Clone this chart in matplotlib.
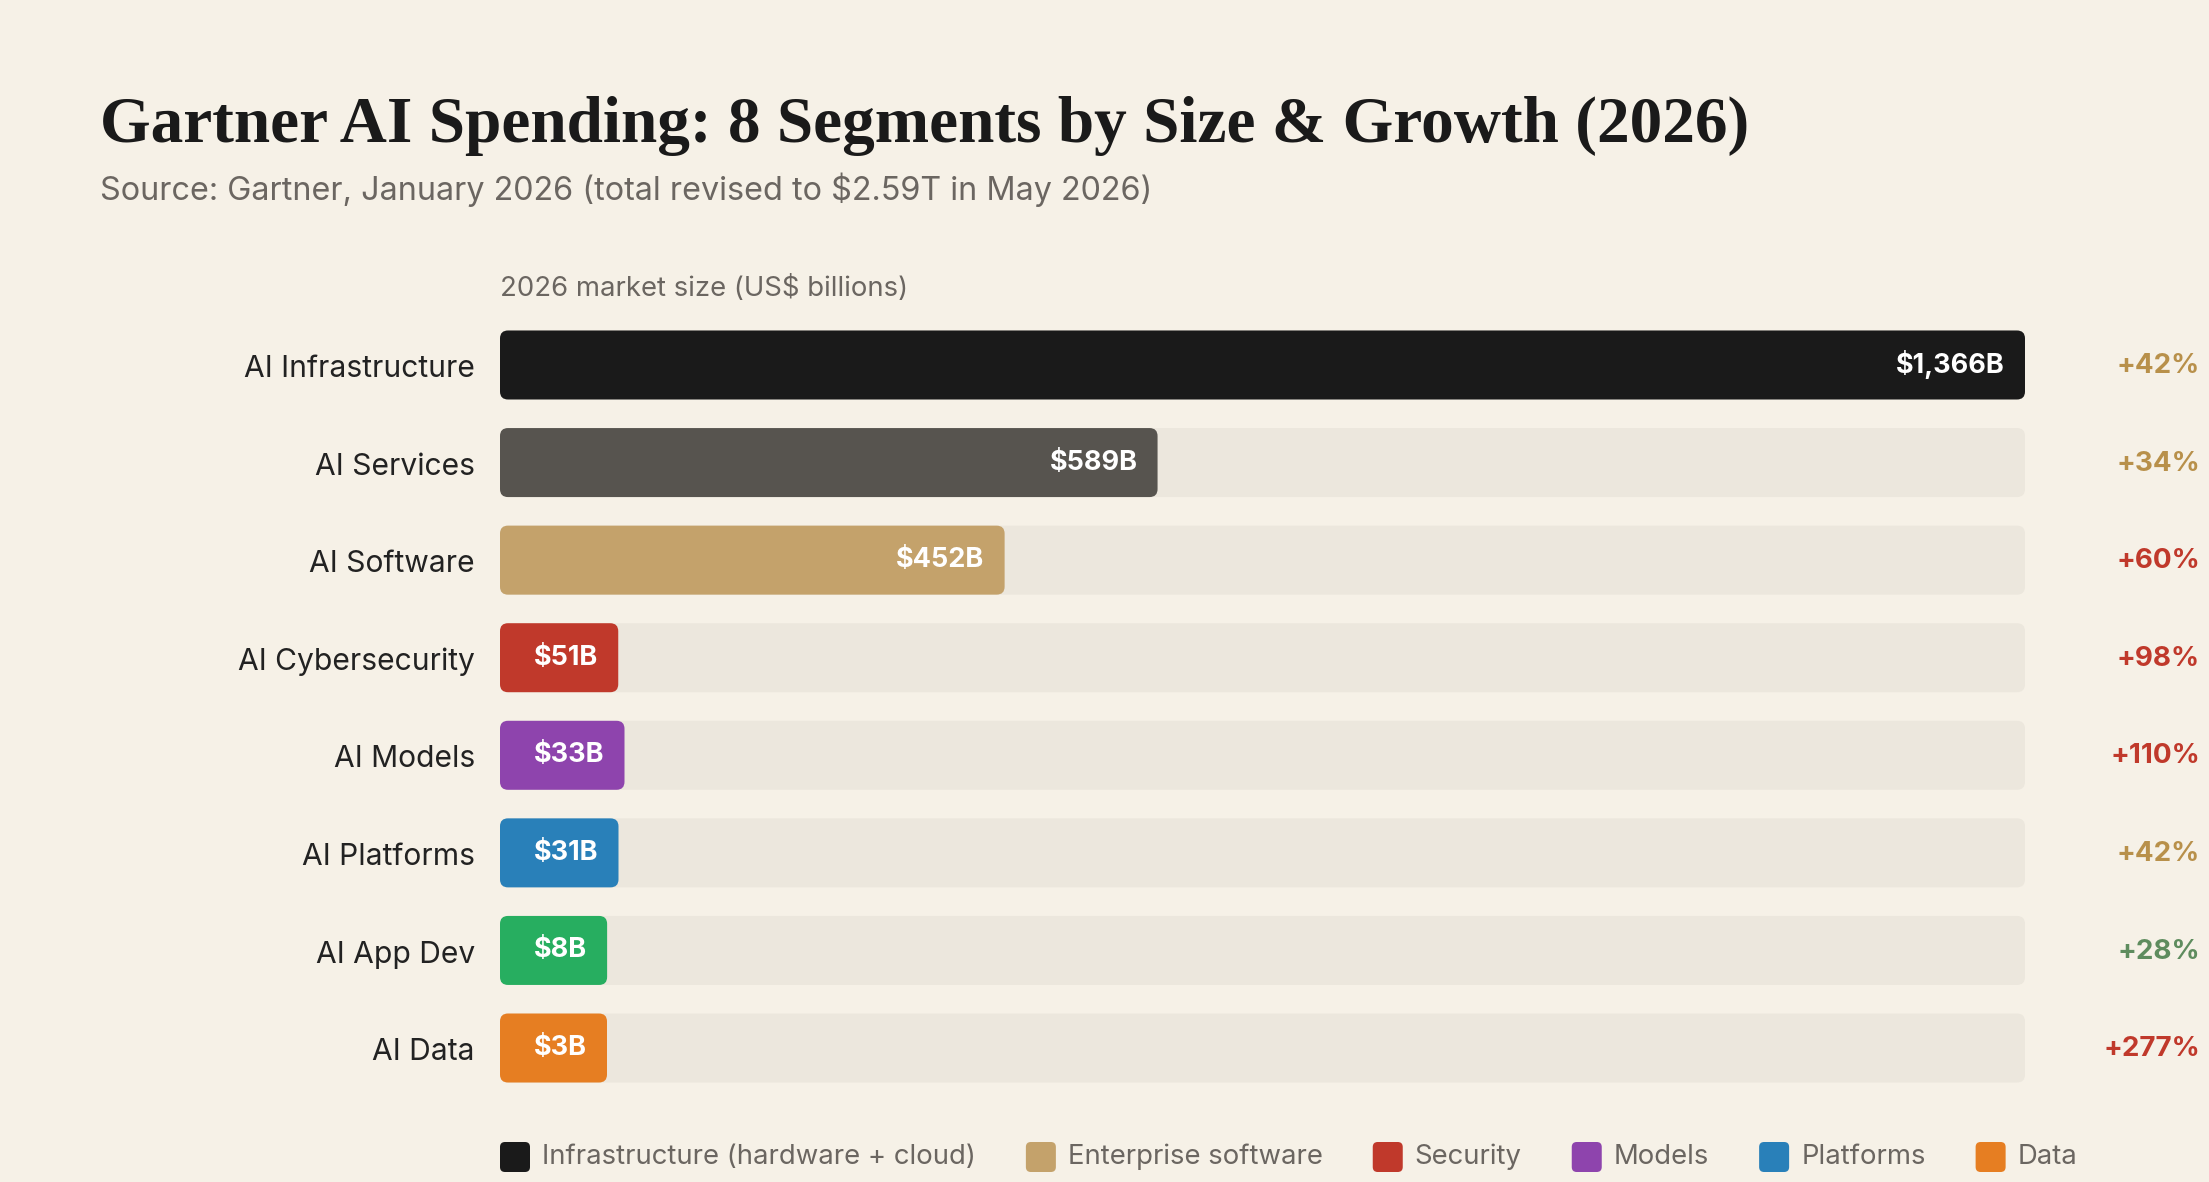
import matplotlib
matplotlib.use('Agg')
import matplotlib.pyplot as plt
from matplotlib.patches import FancyBboxPatch

# ---------------- data ----------------
categories = ["AI Infrastructure", "AI Services", "AI Software", "AI Cybersecurity",
              "AI Models", "AI Platforms", "AI App Dev", "AI Data"]
values = [1366, 589, 452, 51, 33, 31, 8, 3]
value_labels = ["$1,366B", "$589B", "$452B", "$51B", "$33B", "$31B", "$8B", "$3B"]
growth_labels = ["+42%", "+34%", "+60%", "+98%", "+110%", "+42%", "+28%", "+277%"]
bar_colors = ["#1a1a1a", "#57544f", "#c4a26b", "#c0392b", "#8e44ad", "#2980b9", "#27ae60", "#e67e22"]
growth_colors = ["#b8904a", "#b8904a", "#c0392b", "#c0392b", "#c0392b", "#b8904a", "#5e8c5e", "#c0392b"]
legend_labels = ["Infrastructure (hardware + cloud)", "Enterprise software", "Security",
                 "Models", "Platforms", "Data"]
legend_colors = ["#1a1a1a", "#c4a26b", "#c0392b", "#8e44ad", "#2980b9", "#e67e22"]

title = "Gartner AI Spending: 8 Segments by Size & Growth (2026)"
subtitle = "Source: Gartner, January 2026 (total revised to $2.59T in May 2026)"
axis_label = "2026 market size (US$ billions)"

# ---------------- style ----------------
BG = "#f6f1e7"
TRACK = "#ece7dd"
GRAY = "#6b6661"
DARK = "#222222"
SANS = ["Inter", "DejaVu Sans"]
SERIF = ["Liberation Serif", "DejaVu Serif"]

W, H = 2209, 1182
fig = plt.figure(figsize=(W / 100, H / 100), dpi=100)
fig.patch.set_facecolor(BG)
renderer = fig.canvas.get_renderer()

# overlay axes in pixel coordinates for free text / legend
ov = fig.add_axes([0, 0, 1, 1])
ov.set_xlim(0, W)
ov.set_ylim(H, 0)
ov.axis("off")
ov.patch.set_alpha(0)

# bar axes
row_h = 97.6
first_c, last_c = 365, 1048
top = first_c - row_h / 2
bottom = last_c + row_h / 2
x0_px, x1_px = 500, 2025
ax = fig.add_axes([x0_px / W, 1 - bottom / H, (x1_px - x0_px) / W, (bottom - top) / H])
vmax = max(values)
n = len(categories)
ax.set_xlim(0, vmax)
ax.set_ylim(n - 0.5, -0.5)
ax.axis("off")
ax.patch.set_alpha(0)

bb = ax.get_window_extent(renderer)
xpp = vmax / bb.width          # data units per pixel (x)
ypp = n / bb.height            # data units per pixel (y)
bh = 69 * ypp
radius = 8

def rbox(axis, x, y, w, h, color, r_px, xscale, yscale):
    p = FancyBboxPatch((x, y), w, h,
                       boxstyle=f"round,pad=0,rounding_size={r_px * xscale}",
                       mutation_aspect=yscale / xscale,
                       fc=color, ec="none", transform=axis.transData)
    axis.add_patch(p)
    return p

for i, (cat, v, lab, col, g, gc) in enumerate(zip(categories, values, value_labels,
                                                   bar_colors, growth_labels, growth_colors)):
    # track
    rbox(ax, 0, i - bh / 2, vmax, bh, TRACK, radius, xpp, ypp)
    # value label (measure for minimum width)
    t = ax.text(0, i, lab, ha="right", va="center", color="white",
                fontsize=19.5, fontweight="bold", family=SANS, zorder=5)
    tw = t.get_window_extent(renderer).width
    w_px = max(v / xpp, 105, tw + 54)
    w = w_px * xpp
    rbox(ax, 0, i - bh / 2, w, bh, col, radius, xpp, ypp)
    t.set_x(w - 20 * xpp)
    # category label
    ov.text(475, first_c + i * row_h + 4, cat, ha="right", va="center",
            fontsize=21.6, color=DARK, family=SANS)
    # growth label
    ov.text(2200, first_c + i * row_h + 1, g, ha="right", va="center",
            fontsize=20, fontweight="bold", color=gc, family=SANS)

# titles
ov.text(100, 142, title, ha="left", va="baseline", fontsize=47, fontweight="bold",
        color="#1a1a1a", family=SERIF)
ov.text(100, 190, subtitle, ha="left", va="center", fontsize=23.3, color=GRAY, family=SANS)
ov.text(500, 289, axis_label, ha="left", va="center", fontsize=19.8, color=GRAY, family=SANS)

# legend
lx = 500
ly = 1157
for lab, col in zip(legend_labels, legend_colors):
    rbox(ov, lx, ly - 15, 30, 30, col, 5, 1, 1)
    t = ov.text(lx + 42, ly, lab, ha="left", va="center", fontsize=19.8, color=GRAY, family=SANS)
    tw = t.get_window_extent(renderer).width
    lx = lx + 42 + tw + 50

fig.savefig("out.png", dpi=100, facecolor=BG)
